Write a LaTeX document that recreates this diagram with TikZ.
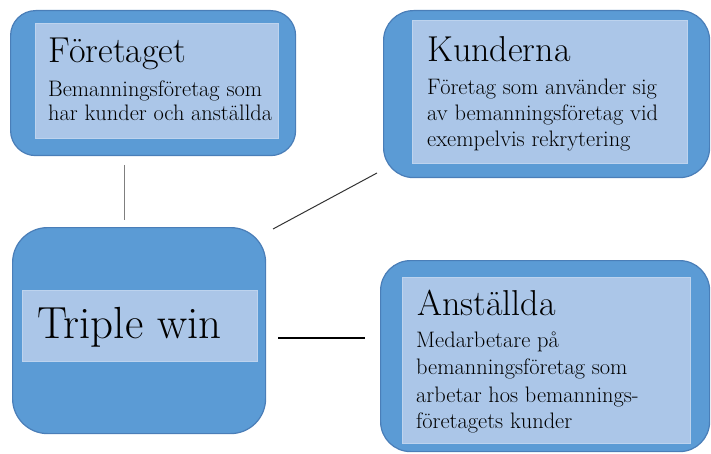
\documentclass[tikz,border=0pt]{standalone}
\usepackage{fontspec}
\definecolor{outerfill}{HTML}{5B9BD5}
\definecolor{outerdraw}{HTML}{4A7EB8}
\definecolor{innerfill}{HTML}{ABC6E8}
\definecolor{innerdraw}{HTML}{BDD3EE}
\definecolor{linegray}{HTML}{7F7F7F}
\begin{document}
\begin{tikzpicture}[x=1pt,y=-1pt,
  outerbox/.style={draw=outerdraw,fill=outerfill,line width=1.2pt,rectangle,inner sep=0pt,anchor=north west},
  innerbox/.style={draw=innerdraw,fill=innerfill,line width=0.8pt,rectangle,inner sep=0pt,anchor=north west},
  titletext/.style={anchor=base west,inner sep=0pt,font=\fontsize{36}{40}\selectfont},
  bodytext/.style={anchor=base west,inner sep=0pt,font=\fontsize{22.4}{26}\selectfont},
  link/.style={line width=1pt}]
\useasboundingbox (0,0) rectangle (711,454);
% boxes
\node[outerbox,rounded corners=25pt,minimum width=285pt,minimum height=145pt] (fo) at (10,10) {};
\node[innerbox,minimum width=243pt,minimum height=115pt] (fi) at (35,23) {};
\node[outerbox,rounded corners=30pt,minimum width=326pt,minimum height=167pt] (ko) at (383,10) {};
\node[innerbox,minimum width=275pt,minimum height=143pt] (ki) at (412,20) {};
\node[outerbox,rounded corners=35pt,minimum width=253pt,minimum height=206pt] (to) at (12,227) {};
\node[innerbox,minimum width=235pt,minimum height=71pt] (ti) at (22,290) {};
\node[outerbox,rounded corners=30pt,minimum width=329pt,minimum height=191pt] (ao) at (380,260) {};
\node[innerbox,minimum width=288pt,minimum height=166pt] (ai) at (402,277) {};
% texts
\node[titletext] (ft) at (48,63) {Företaget};
\node[bodytext] (fb1) at (48,97) {Bemanningsföretag som};
\node[bodytext] (fb2) at (48,121) {har kunder och anställda};
\node[titletext] (kt) at (427,62) {Kunderna};
\node[bodytext] (kb1) at (427,95) {Företag som använder sig};
\node[bodytext] (kb2) at (427,121) {av bemanningsföretag vid};
\node[bodytext] (kb3) at (427,147) {exempelvis rekrytering};
\node[anchor=base west,inner sep=0pt,font=\fontsize{45}{50}\selectfont] (tt) at (37,338) {Triple win};
\node[titletext] (at) at (417,315) {Anställda};
\node[bodytext] (ab1) at (416,347) {Medarbetare på};
\node[bodytext] (ab2) at (416,374) {bemanningsföretag som};
\node[bodytext] (ab3) at (416,402) {arbetar hos bemannings-};
\node[bodytext] (ab4) at (416,428) {företagets kunder};
% connectors
\coordinate (c1a) at (124.5,165);
\coordinate (c1b) at (124.5,220);
\coordinate (c2a) at (273,229);
\coordinate (c2b) at (377,173);
\coordinate (c3a) at (278,338);
\coordinate (c3b) at (365,338);
\draw[link,draw=linegray,line width=1.6pt] (c1a) -- (c1b);
\draw[link,draw=black!80] (c2a) -- (c2b);
\draw[link,draw=black,line width=1.2pt] (c3a) -- (c3b);
\end{tikzpicture}
\end{document}
